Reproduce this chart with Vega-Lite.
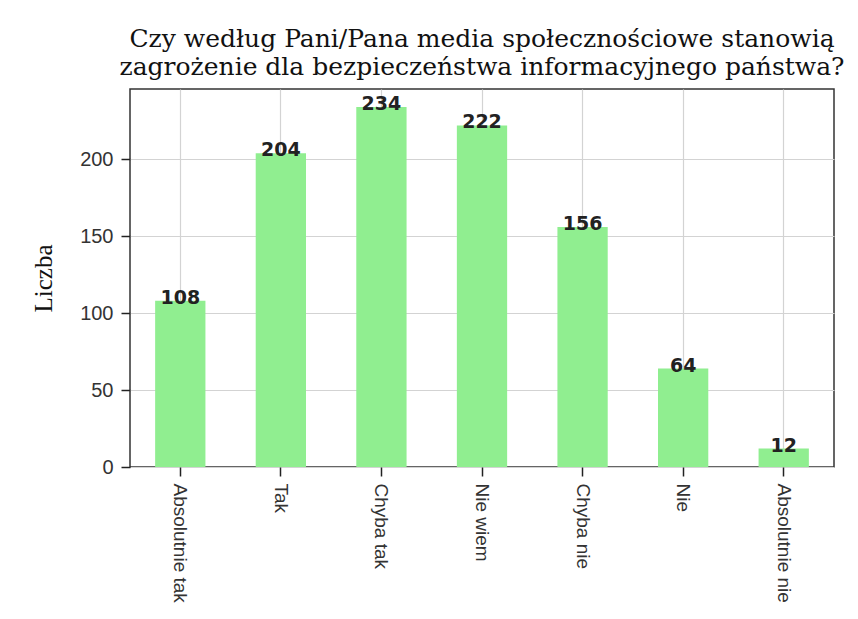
{
  "$schema": "https://vega.github.io/schema/vega-lite/v6.json",
  "width": 704,
  "height": 378,
  "autosize": {"type": "none"},
  "padding": {"left": 130, "top": 89, "right": 24, "bottom": 152},
  "background": "white",
  "title": {
    "text": ["Czy według Pani/Pana media społecznościowe stanowią", "zagrożenie dla bezpieczeństwa informacyjnego państwa?"],
    "font": "DejaVu Serif",
    "fontSize": 25,
    "fontWeight": "normal",
    "lineHeight": 28,
    "color": "#111",
    "anchor": "middle",
    "frame": "group",
    "offset": 9
  },
  "data": {
    "values": [
      {"odp": "Absolutnie tak", "liczba": 108},
      {"odp": "Tak", "liczba": 204},
      {"odp": "Chyba tak", "liczba": 234},
      {"odp": "Nie wiem", "liczba": 222},
      {"odp": "Chyba nie", "liczba": 156},
      {"odp": "Nie", "liczba": 64},
      {"odp": "Absolutnie nie", "liczba": 12}
    ]
  },
  "encoding": {
    "x": {
      "field": "odp",
      "type": "nominal",
      "sort": null,
      "scale": {"paddingInner": 0.5, "paddingOuter": 0.25},
      "axis": {
        "title": null,
        "labelAngle": 90,
        "labelAlign": "left",
        "labelBaseline": "middle",
        "labelFont": "Liberation Sans",
        "labelFontSize": 19,
        "labelColor": "#333",
        "labelPadding": 7,
        "tickSize": 9,
        "tickWidth": 1.5,
        "tickColor": "#222",
        "domain": false,
        "grid": true,
        "gridColor": "#d3d3d3",
        "gridWidth": 1.2,
        "bandPosition": 0.5
      }
    },
    "y": {
      "field": "liczba",
      "type": "quantitative",
      "scale": {"domain": [0, 245.7], "nice": false},
      "axis": {
        "title": "Liczba",
        "titleFont": "Liberation Serif",
        "titleFontSize": 25,
        "titleFontWeight": "normal",
        "titleColor": "#111",
        "titlePadding": 23,
        "values": [0, 50, 100, 150, 200],
        "labelFont": "Liberation Sans",
        "labelFontSize": 20,
        "labelColor": "#333",
        "labelPadding": 8,
        "tickSize": 9,
        "tickWidth": 1.5,
        "tickColor": "#222",
        "domain": false,
        "grid": true,
        "gridColor": "#d3d3d3",
        "gridWidth": 1.2
      }
    }
  },
  "layer": [
    {"mark": {"type": "bar", "color": "#90EE90"}},
    {
      "mark": {
        "type": "text",
        "baseline": "alphabetic",
        "dy": 3,
        "font": "DejaVu Sans",
        "fontSize": 19,
        "fontWeight": "bold",
        "color": "#222"
      },
      "encoding": {"text": {"field": "liczba", "type": "quantitative"}}
    }
  ],
  "config": {
    "view": {"stroke": "#333", "strokeWidth": 1.5}
  }
}
